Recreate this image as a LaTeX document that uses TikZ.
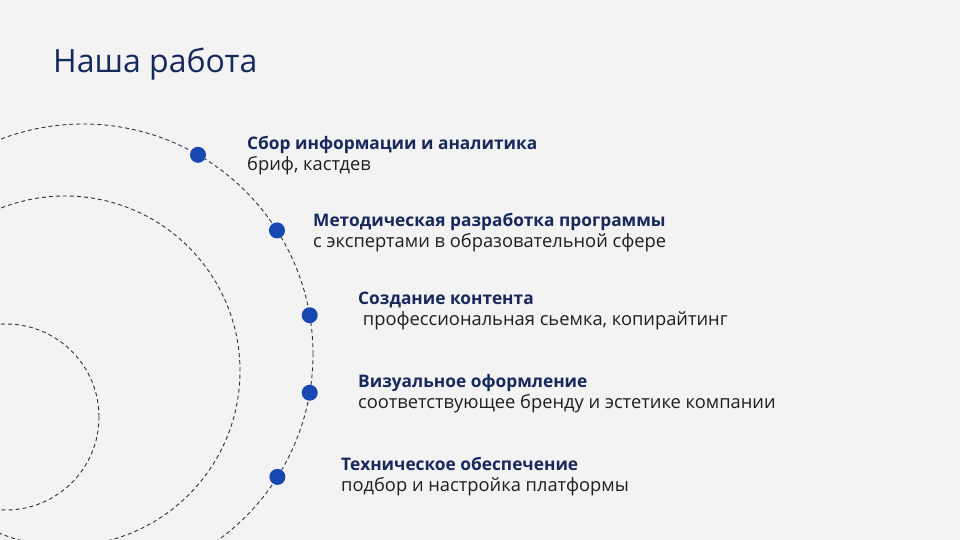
\documentclass[tikz,border=0pt]{standalone}
\usepackage{fontspec}
\setmainfont{Open Sans}
\usetikzlibrary{positioning}
\definecolor{bggray}{HTML}{F3F3F4}
\definecolor{navy}{HTML}{17285C}
\definecolor{subgray}{HTML}{1E1E22}
\definecolor{dotblue}{HTML}{1747B1}
\definecolor{ringgray}{HTML}{2E3240}
\begin{document}
\begin{tikzpicture}[x=1pt,y=1pt,
   ring/.style={draw=ringgray,line width=0.9pt,dash pattern=on 4pt off 3pt},
   dot/.style={circle,fill=dotblue,inner sep=0pt,minimum size=16pt},
   head/.style={anchor=base west,inner sep=0pt,text=navy,
     font=\fontsize{17.3}{20}\selectfont\bfseries},
   sub/.style={below=21pt of #1,anchor=base west,inner sep=0pt,text=subgray,
     font=\fontsize{18.3}{20}\selectfont}]

\fill[bggray] (0,0) rectangle (960,540);
\useasboundingbox (0,0) rectangle (960,540);

\node[anchor=base west,inner sep=0pt,text=navy,font=\fontsize{32}{38}\selectfont]
   (title) at (53,467) {Наша работа};

\begin{scope}
\clip (0,0) rectangle (960,540);
\coordinate (inner) at (6,123);
\coordinate (middle) at (65,169);
\coordinate (outer) at (83,186);
\draw[ring] (inner) circle[radius=93];
\draw[ring] (middle) circle[radius=175];
\draw[ring] (outer) circle[radius=230];
\end{scope}

\node[dot] (d1) at ([shift={(60:230)}]outer) {};
\node[dot] (d2) at ([shift={(32.5:230)}]outer) {};
\node[dot] (d3) at ([shift={(9.7:230)}]outer) {};
\node[dot] (d4) at ([shift={(-9.7:230)}]outer) {};
\node[dot] (d5) at ([shift={(-32.3:230)}]outer) {};

\node[head] (h1) at (247,390) {Сбор информации и аналитика};
\node[sub=h1.base west] (s1) {бриф, кастдев};
\node[head] (h2) at (313,313) {Методическая разработка программы};
\node[sub=h2.base west] (s2) {с экспертами в образовательной сфере};
\node[head] (h3) at (358,235) {Создание контента};
\node[sub=h3.base west] (s3) {\ профессиональная сьемка, копирайтинг};
\node[head] (h4) at (358,152) {Визуальное оформление};
\node[sub=h4.base west] (s4) {соответствующее бренду и эстетике компании};
\node[head] (h5) at (341,69) {Техническое обеспечение};
\node[sub=h5.base west] (s5) {подбор и настройка платформы};

\end{tikzpicture}
\end{document}
